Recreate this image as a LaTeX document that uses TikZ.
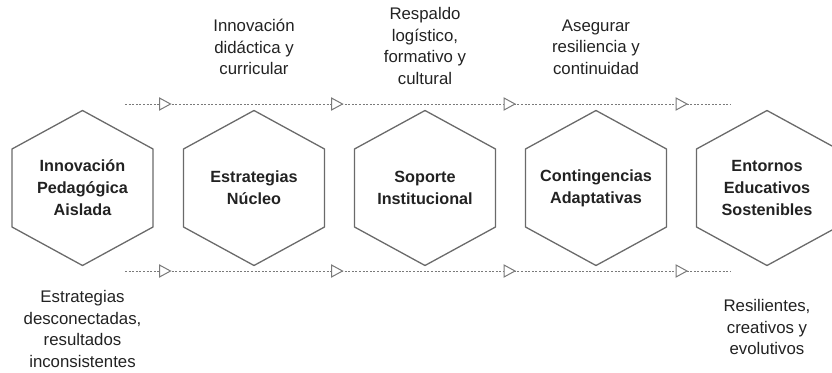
\documentclass[tikz,border=0pt]{standalone}
\usepackage{fontspec}
\setmainfont{Liberation Sans}
\usetikzlibrary{calc}
\definecolor{txt}{HTML}{222222}
\definecolor{hexc}{HTML}{6A6A6A}
\definecolor{dashc}{HTML}{7A7A7A}
\begin{document}
\begin{tikzpicture}[x=1pt,y=-1pt,
  hexbox/.style={draw=hexc,line width=1.3pt,line join=miter},
  hextext/.style={font=\fontsize{16.2}{22}\selectfont\bfseries,text=txt,align=center},
  lbl/.style={font=\fontsize{16.8}{21.5}\selectfont,text=txt,align=center},
  flow/.style={draw=dashc,line width=1pt,dash pattern=on 2pt off 1.6pt},
  tri/.style={draw=dashc,line width=1pt,fill=white,line join=miter}]
\useasboundingbox (0,0) rectangle (832,372);
\foreach \n/\cx in {1/82.5,2/254,3/425,4/596,5/767}{
  \coordinate (h\n) at (\cx,188);
  \draw[hexbox] ($(h\n)+(0,-77.5)$) -- ++(70.5,38.5) -- ++(0,78) -- ++(-70.5,38.5) -- ++(-70.5,-38.5) -- ++(0,-78) -- cycle;
}
\node[hextext] (t1) at (h1) {Innovación\\Pedagógica\\Aislada};
\node[hextext] (t2) at (h2) {Estrategias\\Núcleo};
\node[hextext] (t3) at (h3) {Soporte\\Institucional};
\node[hextext] (t4) at (h4) {Contingencias\\Adaptativas};
\node[hextext] (t5) at (h5) {Entornos\\Educativos\\Sostenibles};
% flow lines
\coordinate (ta) at (125,104); \coordinate (tb) at (730,104);
\coordinate (ba) at (125,271); \coordinate (bb) at (730,271);
\draw[flow] (ta) -- (tb);
\draw[flow] (ba) -- (bb);
\foreach \x in {159.5,331.5,504,676}{
  \draw[tri] (\x,98) -- (\x+11,104) -- (\x,110) -- cycle;
  \draw[tri] (\x,265) -- (\x+11,271) -- (\x,277) -- cycle;
}
% labels
\node[lbl] (l2) at (254,47) {Innovación\\didáctica y\\curricular};
\node[lbl] (l3) at (425,46) {Respaldo\\logístico,\\formativo y\\cultural};
\node[lbl] (l4) at (596,47) {Asegurar\\resiliencia y\\continuidad};
\node[lbl] (l1) at (82.5,329) {Estrategias\\desconectadas,\\resultados\\inconsistentes};
\node[lbl] (l5) at (767,327) {Resilientes,\\creativos y\\evolutivos};
\end{tikzpicture}
\end{document}
